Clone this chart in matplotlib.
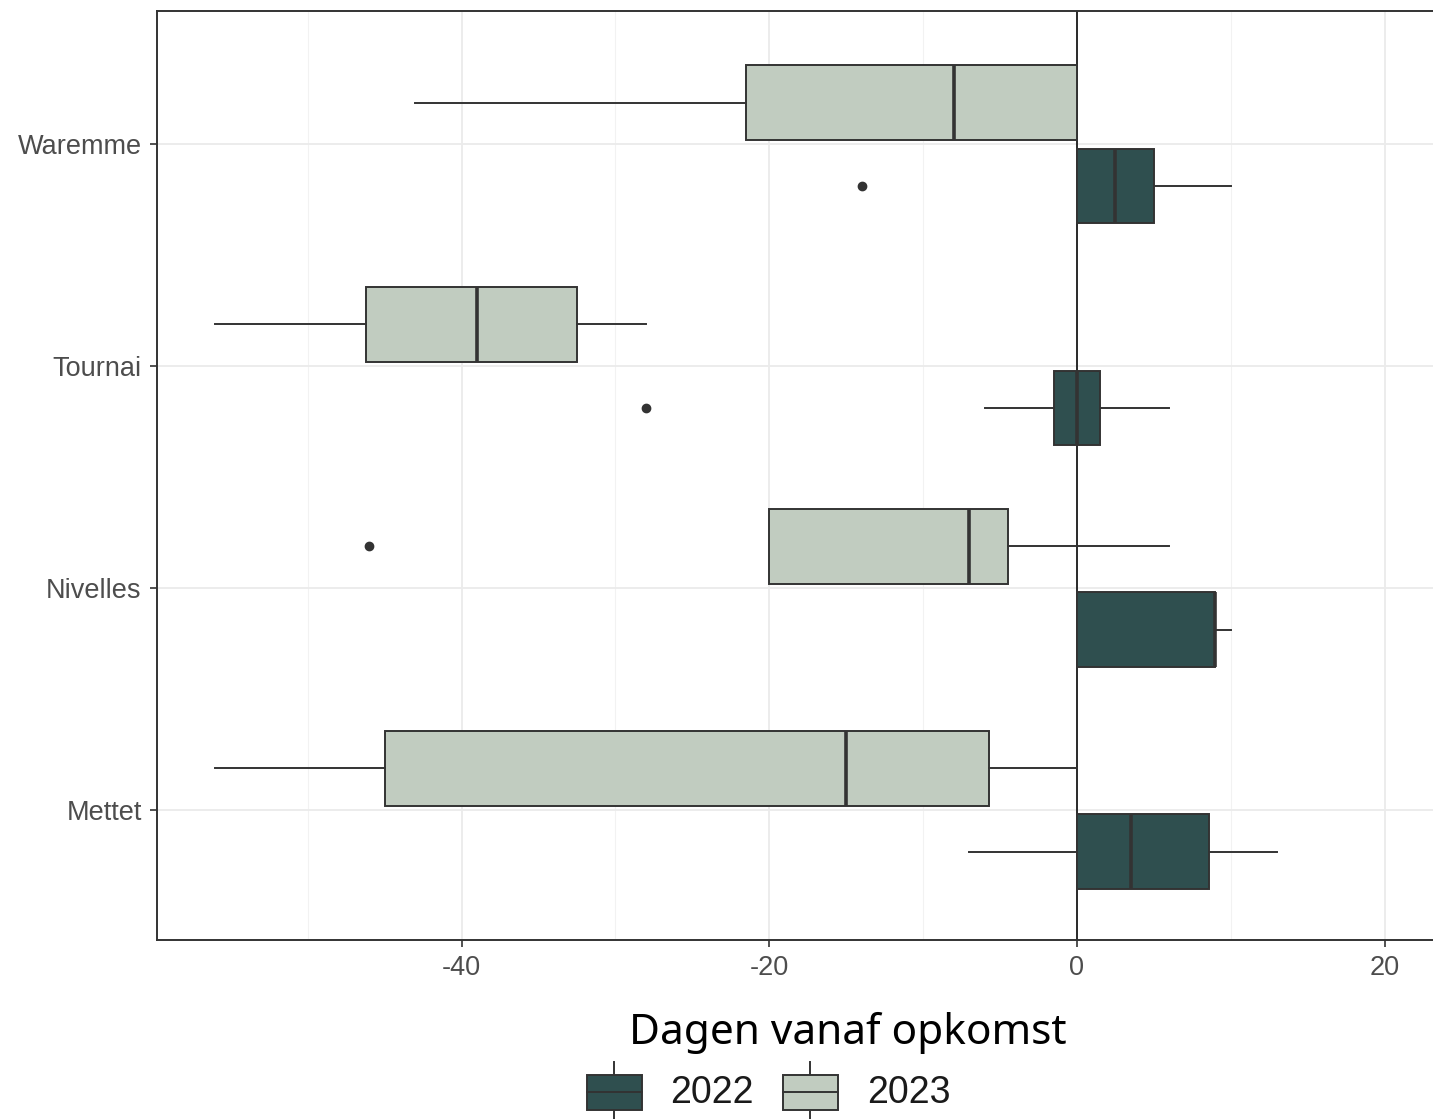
import matplotlib.pyplot as plt
from matplotlib.patches import Rectangle
from matplotlib.lines import Line2D

# Datos
sites = ['Mettet', 'Nivelles', 'Tournai', 'Waremme']
years = ['2022', '2023']
colors = {'2022': '#2F4F4F', '2023': '#C1CCC0'}

# estadisticas por caja: (whislo, q1, med, q3, whishi)
stats_2022 = {
    'Mettet': (-7, 0, 3.5, 8.6, 13),
    'Nivelles': (0, 0, 9, 9, 10),
    'Tournai': (-6, -1.5, 0, 1.5, 6),
    'Waremme': (0, 0, 2.5, 5, 10),
}
stats_2023 = {
    'Mettet': (-56, -45, -15, -5.7, 0),
    'Nivelles': (-20, -20, -7, -4.5, 6),
    'Tournai': (-56, -46.2, -39, -32.5, -28),
    'Waremme': (-43, -21.5, -8, 0, 0),
}
fliers_2022 = {'Mettet': [], 'Nivelles': [], 'Tournai': [-28], 'Waremme': [-14]}
fliers_2023 = {'Mettet': [], 'Nivelles': [-46], 'Tournai': [], 'Waremme': []}

x_ticks = [-40, -20, 0, 20]
x_minor = [-50, -30, -10, 10]

W, H = 1433, 1119
fig = plt.figure(figsize=(W / 100, H / 100), dpi=100)
plt.rcParams['font.family'] = 'Liberation Sans'

ax = fig.add_axes([157 / W, 1 - 940 / H, (W - 157) / W, (940 - 11) / H])

edge = '#333333'


def make_stats(s, fl):
    return dict(whislo=s[0], q1=s[1], med=s[2], q3=s[3], whishi=s[4], fliers=fl)


for year, stats, fliers, off in [('2022', stats_2022, fliers_2022, -0.1875),
                                  ('2023', stats_2023, fliers_2023, 0.1875)]:
    bx = [make_stats(stats[s], fliers[s]) for s in sites]
    pos = [i + off for i in range(len(sites))]
    ax.bxp(bx, positions=pos, widths=0.335, orientation='horizontal',
           patch_artist=True, showcaps=False, zorder=3,
           boxprops=dict(facecolor=colors[year], edgecolor=edge, linewidth=1.4),
           medianprops=dict(color=edge, linewidth=2.6),
           whiskerprops=dict(color=edge, linewidth=1.4),
           flierprops=dict(marker='o', markerfacecolor=edge, markeredgecolor=edge,
                           markersize=6))

ax.axvline(0, color='#1a1a1a', linewidth=1.3, zorder=2)

ax.set_xlim(-59.8, 23.14)
ax.set_ylim(-0.586, 3.6)
ax.set_yticks(range(len(sites)))
ax.set_yticklabels(sites)
ax.set_xticks(x_ticks)
ax.set_xticklabels([str(t) for t in x_ticks])
ax.set_xticks(x_minor, minor=True)

ax.grid(True, which='major', color='#EBEBEB', linewidth=1.3, zorder=0)
ax.grid(True, which='minor', axis='x', color='#F2F2F2', linewidth=0.8, zorder=0)
ax.set_axisbelow(True)

ax.tick_params(axis='both', which='major', length=5, width=1.2, color=edge,
               labelcolor='#4D4D4D', labelsize=19.5, pad=6)
ax.tick_params(axis='x', which='minor', length=0)
for side in ['left', 'top', 'bottom']:
    ax.spines[side].set_color(edge)
    ax.spines[side].set_linewidth(1.4)
ax.spines['right'].set_visible(False)

fig.text(848 / W, 1 - 1033 / H, 'Dagen vanaf opkomst', ha='center', va='center',
         fontsize=30.5, family='Noto Sans', color='black')

# Leyenda manual
lg = fig.add_axes([0, 0, 1, 1])
lg.set_xlim(0, W)
lg.set_ylim(H, 0)
lg.axis('off')
for year, x0, xt in [('2022', 587, 670), ('2023', 783, 867)]:
    lg.add_line(Line2D([x0 + 27, x0 + 27], [1062, 1119], color=edge, linewidth=1.4))
    lg.add_patch(Rectangle((x0, 1075), 55, 35, facecolor=colors[year],
                           edgecolor=edge, linewidth=1.4, zorder=3))
    lg.add_line(Line2D([x0, x0 + 55], [1092, 1092], color=edge, linewidth=1.4, zorder=4))
    lg.text(xt, 1093, year, ha='left', va='center', fontsize=27, color='#1a1a1a')

fig.savefig('out.png', dpi=100)
